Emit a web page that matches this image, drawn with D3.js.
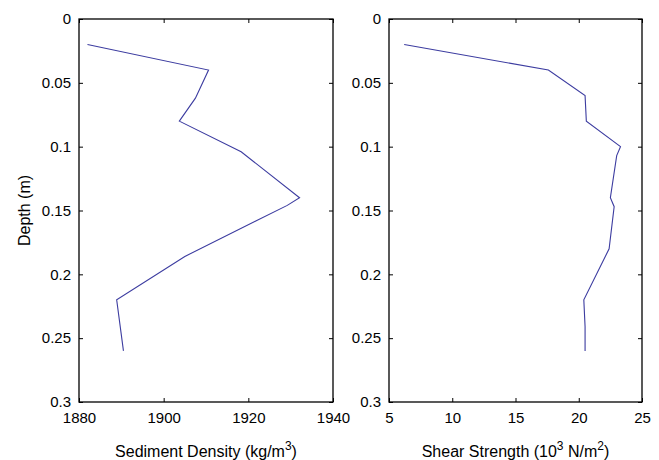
<!DOCTYPE html>
<html>
<head>
    <script src="https://d3js.org/d3.v7.min.js"></script>
    <style>
        body { margin: 0; background: #fff; }
        text { font-family: "Liberation Sans", Arial, sans-serif; fill: #000; }
        .axis path, .axis line { stroke: #000; }
    </style>
</head>
<body>
    <div id="chart"></div>
    <script>
        // depth (m) for each sample
        var densityDepth = [0.02, 0.04, 0.062, 0.08, 0.104, 0.14, 0.146, 0.186, 0.22, 0.26];
        var densityValue = [1882, 1910.6, 1907.5, 1903.7, 1918.3, 1932.1, 1929.2, 1905, 1888.9, 1890.5];

        var shearDepth = [0.02, 0.04, 0.06, 0.08, 0.10, 0.107, 0.14, 0.147, 0.18, 0.22, 0.241, 0.26];
        var shearValue = [6.2, 17.6, 20.5, 20.6, 23.3, 23.0, 22.5, 22.8, 22.4, 20.4, 20.5, 20.5];

        var depthTicks = [0, 0.05, 0.1, 0.15, 0.2, 0.25, 0.3];
        var densityTicks = [1880, 1900, 1920, 1940];
        var shearTicks = [5, 10, 15, 20, 25];

        var width = 659, height = 460;
        var top_ = 19, bottom = 402;

        var svg = d3.select("#chart").append("svg")
            .attr("width", width)
            .attr("height", height);

        var yScale = d3.scaleLinear().domain([0, 0.3]).range([top_, bottom]);

        function drawPanel(left, right, xDomain, xTicks, xs, ys, label, showYLabel) {
            var xScale = d3.scaleLinear().domain(xDomain).range([left, right]);
            var g = svg.append("g");

            // box
            g.append("rect")
                .attr("x", left).attr("y", top_)
                .attr("width", right - left).attr("height", bottom - top_)
                .attr("fill", "none").attr("stroke", "#000").attr("stroke-width", 1.3);

            // bottom axis with labels, ticks pointing inward
            g.append("g").attr("class", "axis")
                .attr("transform", "translate(0," + bottom + ")")
                .call(d3.axisBottom(xScale).tickValues(xTicks).tickSize(-4).tickPadding(10).tickFormat(d3.format("")))
                .call(function(a) { a.select(".domain").remove(); a.selectAll("text").style("font-size", "15px"); });
            // top ticks
            g.append("g").attr("class", "axis")
                .attr("transform", "translate(0," + top_ + ")")
                .call(d3.axisTop(xScale).tickValues(xTicks).tickSize(-4).tickFormat(""))
                .call(function(a) { a.select(".domain").remove(); });

            // left axis
            g.append("g").attr("class", "axis")
                .attr("transform", "translate(" + left + ",0)")
                .call(d3.axisLeft(yScale).tickValues(depthTicks).tickSize(-4).tickPadding(8).tickFormat(d3.format("")))
                .call(function(a) { a.select(".domain").remove(); a.selectAll("text").style("font-size", "15px"); });
            // right ticks
            g.append("g").attr("class", "axis")
                .attr("transform", "translate(" + right + ",0)")
                .call(d3.axisRight(yScale).tickValues(depthTicks).tickSize(-4).tickFormat(""))
                .call(function(a) { a.select(".domain").remove(); });

            var pts = xs.map(function(v, i) { return [v, ys[i]]; });
            g.append("path")
                .datum(pts)
                .attr("fill", "none")
                .attr("stroke", "#3c3ca0")
                .attr("stroke-width", 1.1)
                .attr("d", d3.line().x(function(d) { return xScale(d[0]); }).y(function(d) { return yScale(d[1]); }));

            var t = g.append("text")
                .attr("x", (left + right) / 2)
                .attr("y", 457)
                .attr("text-anchor", "middle")
                .style("font-size", "16px");
            label.forEach(function(p) {
                var s = t.append("tspan").text(p.t);
                if (p.sup) s.attr("dy", -7).style("font-size", "12px");
                else if (p.after) s.attr("dy", 7);
            });

            if (showYLabel) {
                svg.append("text")
                    .attr("transform", "translate(30," + (top_ + bottom) / 2 + ") rotate(-90)")
                    .attr("text-anchor", "middle")
                    .style("font-size", "16px")
                    .text("Depth (m)");
            }
        }

        drawPanel(79, 333, [1880, 1940], densityTicks, densityValue, densityDepth,
            [{t: "Sediment Density (kg/m"}, {t: "3", sup: true}, {t: ")", after: true}], true);
        drawPanel(389, 642, [5, 25], shearTicks, shearValue, shearDepth,
            [{t: "Shear Strength (10"}, {t: "3", sup: true}, {t: " N/m", after: true}, {t: "2", sup: true}, {t: ")", after: true}], false);
    </script>
</body>
</html>
